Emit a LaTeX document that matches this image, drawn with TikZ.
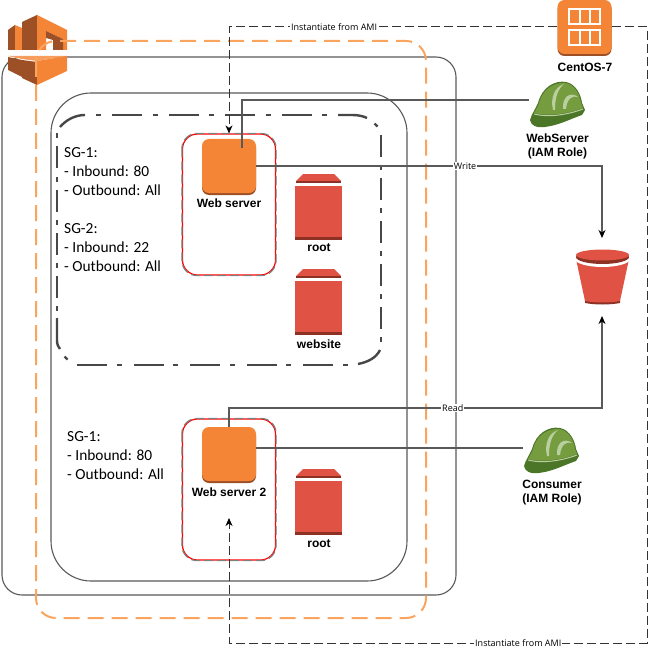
\documentclass[tikz,border=0pt]{standalone}
\usepackage{fontspec}
\usetikzlibrary{arrows.meta}
\setmainfont{Liberation Sans}
\newfontfamily\notefont{Carlito}
\newfontfamily\edgefont{Open Sans}
\definecolor{awsorange}{HTML}{F58536}
\definecolor{awsbrown}{HTML}{9D5025}
\definecolor{awsred}{HTML}{E05243}
\definecolor{awsdark}{HTML}{8C3123}
\definecolor{hatgreen}{HTML}{759C3E}
\definecolor{hatdark}{HTML}{4B7527}
\definecolor{hatlight}{HTML}{B9CFA0}
\definecolor{dashorange}{HTML}{F9A45F}
\definecolor{linegray}{HTML}{595959}
\tikzset{
  region/.style={draw=linegray, line width=1.1pt},
  sgline/.style={draw=black!72, line width=2.4pt},
  server/.style={fill=awsorange, minimum width=54pt, minimum height=54pt, inner sep=0pt, rounded corners=7pt,
    preaction={fill=awsbrown, rounded corners=7pt, transform canvas={yshift=-2pt}}},
  iconlabel/.style={font=\bfseries\fontsize{12}{14}\selectfont, align=center, inner sep=0pt},
  sglabel/.style={font=\notefont\fontsize{15.4}{19}\selectfont, align=left, anchor=west, inner sep=0pt},
  edgelabel/.style={font=\edgefont\fontsize{9}{10}\selectfont, fill=white, inner sep=1pt},
  role/.style={minimum width=56pt, minimum height=40pt, inner sep=0pt},
  link/.style={draw=linegray, line width=1.2pt},
  tip/.style={-{Stealth[length=8pt, width=7pt, inset=2.5pt, black]}},
  amilink/.style={draw=black!80, line width=1pt, dash pattern=on 9pt off 4pt},
  volume/.pic={
    \fill[awsred] (8,0) -- (39,0) -- (46,7) -- (1,7) -- cycle;
    \fill[awsdark] (1,7) rectangle (46,9);
    \fill[awsred] (0,12) rectangle (47,63);
    \fill[awsdark] (0,63) rectangle (47,66);
  },
  hardhat/.pic={
    \fill[hatdark] (10,45) .. controls (12,38) and (15,35) .. (18,28) .. controls (22,12) and (35,5) .. (46,7)
      .. controls (56,9) and (61,20) .. (62,28) -- (65,35) -- (62,40) .. controls (50,44) and (40,50) .. (25,52)
      .. controls (15,53) and (11,50) .. (10,45) -- cycle;
    \fill[hatgreen] (14,38) .. controls (16,34) and (18,32) .. (19,28) .. controls (23,13) and (35,7) .. (46,8)
      .. controls (55,10) and (60,20) .. (61,28) -- (63,33) .. controls (50,38) and (30,42) .. (14,38) -- cycle;
    \draw[hatlight, line width=1pt] (14,39) .. controls (30,43) and (50,39) .. (63,34);
    \fill[hatlight] (33,35) .. controls (30,22) and (35,12) .. (44,9) .. controls (38,14) and (35,22) .. (35,35) -- cycle;
    \fill[hatlight] (43,34) .. controls (42,22) and (50,16) .. (58,22) .. controls (52,20) and (47,24) .. (46,34) -- cycle;
  },
}
\begin{document}
\begin{tikzpicture}[x=1pt, y=-1pt]
\useasboundingbox (0,0) rectangle (649,655);
\draw[region, rounded corners=20pt] (2,57) rectangle (456,595);
% logo
\fill[awsbrown] (8,30) -- (15,25) -- (15,50) -- (8,50) -- cycle;
\fill[awsorange] (15,25) -- (22,28) -- (22,50) -- (15,50) -- cycle;
\fill[awsbrown] (22,22) -- (37,15) -- (37,50) -- (22,50) -- cycle;
\fill[awsorange] (37,15) -- (67,30) -- (67,50) -- (63,50) -- (63,39) -- (46,31) -- (46,50) -- (37,50) -- cycle;
\fill[awsbrown] (46,31) -- (63,39) -- (63,50) -- (53,50) -- (53,40) -- (46,38) -- cycle;
\fill[awsbrown] (8,57) -- (22,60) -- (22,77) -- (8,70) -- cycle;
\fill[awsbrown] (22,60) -- (37,62) -- (37,85) -- (22,78) -- cycle;
\fill[awsorange] (37,61) -- (67,56) -- (67,71) -- (37,85) -- cycle;
\fill[awsorange!80!white] (8,56) -- (67,56) -- (37,61) -- (22,59) -- cycle;
\draw[draw=dashorange, line width=2pt, dash pattern=on 16pt off 8pt, rounded corners=20pt] (36,41) rectangle (426,618);
\draw[region, rounded corners=40pt] (51,93) rectangle (407,581);
% security group outline
\draw[sgline, dash pattern=on 5pt off 11pt on 30pt off 10.5pt] (96,115) -- (330,115);
\draw[sgline, dash pattern=on 22pt off 8pt on 5pt off 8pt] (381,135) -- (381,342);
\draw[sgline, dash pattern=on 5pt off 9.5pt on 30pt off 12pt] (347.5,365) -- (77,365);
\draw[sgline, dash pattern=on 5pt off 8pt on 22pt off 8pt] (57,310.5) -- (57,133.5);
\draw[sgline] (60,127) .. controls (66,120) and (75,115) .. (85,115);
\draw[sgline] (338,115) -- (352,115) .. controls (358,115) and (363,116) .. (367,118);
\draw[sgline] (374.5,123.5) -- (377.5,126.5);
\draw[sgline] (380,350) .. controls (376,358) and (368,362) .. (358,364);
\draw[sgline] (64.5,356.5) -- (67.5,359.5);
\draw[sgline] (57,318) -- (57,340) .. controls (57,344) and (58,347) .. (60,349);
\foreach \gy/\gname in {204.5/G_web, 489.5/G_two} {
  \node (\gname) at (229,\gy) [draw=red, line width=1.2pt, rounded corners=15pt, minimum width=93pt, minimum height=141pt, inner sep=0pt] {};
  \draw[draw=gray, line width=1.2pt, dash pattern=on 9pt off 4pt, rounded corners=15pt] (\gname.north west) rectangle (\gname.south east);
}
\node[server] (S_web) at (229,166) {};
\node[iconlabel] (T_web) at (229,203) {Web server};
\node[server] (S_two) at (229,454) {};
\node[iconlabel] (T_two) at (229,492) {Web server 2};
\pic at (295,174) {volume};
\node[iconlabel] (T_root) at (319,248) {root};
\pic at (295,269) {volume};
\node[iconlabel] (T_site) at (319,344) {website};
\pic at (295,469) {volume};
\node[iconlabel] (T_rootb) at (319,544) {root};
\node[sglabel] (T_sga) at (64,172) {SG-1:\\- Inbound: 80\\- Outbound: All};
\node[sglabel] (T_sgb) at (64,248) {SG-2:\\- Inbound: 22\\- Outbound: All};
\node[sglabel] (T_sgc) at (67,456) {SG-1:\\- Inbound: 80\\- Outbound: All};
% image and roles
\node[server] (I_ami) at (584.5,27) {};
\foreach \fy in {9,30} {
  \draw[white, line width=2pt] (569,\fy) rectangle (600,\fy+15);
  \draw[white, line width=2pt] (579.5,\fy) -- (579.5,\fy+15) (590,\fy) -- (590,\fy+15);
}
\node[iconlabel] (T_ami) at (585,67) {CentOS-7};
\node[role] (H_web) at (557,100) {};
\pic at (520,75) {hardhat};
\node[iconlabel] (T_hweb) at (557.5,146.5) {WebServer\\(IAM Role)};
\node[role] (H_con) at (551,448) {};
\pic at (514,421) {hardhat};
\node[iconlabel] (T_hcon) at (552,493) {Consumer\\(IAM Role)};
% bucket
\fill[awsdark] (585,300) -- (620,300) -- (620,303) .. controls (610,305) and (595,305) .. (585,303) -- cycle;
\fill[awsred] (576,259) -- (629,259) -- (620,301) .. controls (610,303) and (595,303) .. (585,301) -- cycle;
\fill[white] (602.5,258.5) ellipse[x radius=28, y radius=8.5];
\fill[awsdark] (602.5,257) ellipse[x radius=26.5, y radius=7];
\fill[awsred] (602.5,255) ellipse[x radius=26.5, y radius=5.5];
\coordinate (B_top) at (602,238);
\coordinate (B_bot) at (602,316);
\coordinate (P_hweb) at (242,148);
\coordinate (P_read) at (229,408);
\coordinate (P_ne) at (647,27);
\coordinate (P_se) at (647,643);
\coordinate (P_two) at (229,518);
\draw[link] (H_web.west) -| (P_hweb);
\draw[link, tip] (S_web.east) -| (B_top) node[pos=0.302, edgelabel] {Write};
\draw[link, tip] (S_two.north) -- (P_read) -| (B_bot) node[pos=0.30, edgelabel] {Read};
\draw[link] (H_con.west) -- (H_con.west -| S_two.east);
\draw[amilink, tip] (I_ami.west) -| (G_web.north) node[pos=0.34, edgelabel] {Instantiate from AMI};
\draw[amilink, tip] (I_ami.east) -- (P_ne) -- (P_se) -| (P_two) node[pos=0.154, edgelabel] {Instantiate from AMI};
\end{tikzpicture}
\end{document}
